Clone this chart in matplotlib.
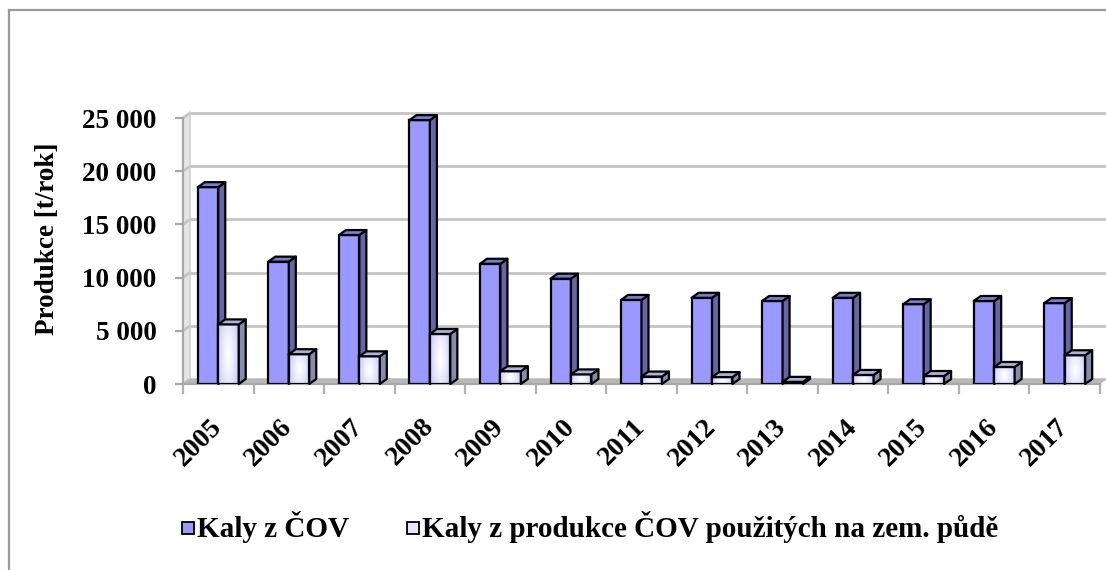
import numpy as np
import matplotlib
matplotlib.use("Agg")
import matplotlib.pyplot as plt
from matplotlib.patches import Polygon
from matplotlib.lines import Line2D

# ---- data ----
years = ["2005", "2006", "2007", "2008", "2009", "2010", "2011",
         "2012", "2013", "2014", "2015", "2016", "2017"]
kaly_cov = [18500, 11500, 14000, 24800, 11300, 9900, 7900,
            8100, 7800, 8100, 7500, 7800, 7600]
kaly_puda = [5600, 2800, 2600, 4700, 1200, 900, 700,
             650, 200, 850, 750, 1600, 2700]
y_ticks = [0, 5000, 10000, 15000, 20000, 25000]
y_tick_labels = ["0", "5 000", "10 000", "15 000", "20 000", "25 000"]
y_label = "Produkce [t/rok]"
legend_labels = ["Kaly z ČOV", "Kaly z produkce ČOV použitých na zem. půdě"]

plt.rcParams['font.family'] = ['Liberation Serif', 'DejaVu Serif']
plt.rcParams['font.weight'] = 'bold'

W, H = 1106, 570
fig = plt.figure(figsize=(W / 100, H / 100), dpi=100)
fig.patch.set_facecolor('white')

# frame (top & left visible)
fig.add_artist(Line2D([9 / W, 9 / W], [0, 1 - 10 / H], color='#9a9a9a', lw=1.6,
                      transform=fig.transFigure))
fig.add_artist(Line2D([9 / W, 1], [1 - 10 / H, 1 - 10 / H], color='#9a9a9a', lw=1.6,
                      transform=fig.transFigure))

ax_l, ax_r, ax_b, ax_t = 183, 1100, 384, 118
ax = fig.add_axes([ax_l / W, (H - ax_b) / H, (ax_r - ax_l) / W, (ax_b - ax_t) / H])
ax.set_facecolor('none')
n = len(years)
ax.set_xlim(-0.5, n - 0.5)
ax.set_ylim(0, 25000)

px_x = (n) / (ax_r - ax_l)          # data units per pixel (x)
px_y = 25000 / (ax_b - ax_t)        # data units per pixel (y)
dx = 7 * px_x
dy = 5 * px_y

grid_c = '#c4c4c4'
# back wall grid lines
for v in y_ticks:
    ax.plot([-0.5 + dx, n - 0.5 + dx], [v + dy, v + dy], color=grid_c, lw=2,
            clip_on=False, zorder=1, solid_capstyle='butt')
    ax.plot([-0.5, -0.5 + dx], [v, v + dy], color=grid_c, lw=2,
            clip_on=False, zorder=1)
# left wall
ax.add_patch(Polygon([(-0.5, 0), (-0.5 + dx, dy), (-0.5 + dx, 25000 + dy), (-0.5, 25000)],
                     closed=True, facecolor='#e6e6e6', edgecolor='none',
                     clip_on=False, zorder=0.5))
ax.plot([-0.5 + dx, -0.5 + dx], [dy, 25000 + dy], color='#d0d0d0', lw=1.2,
        clip_on=False, zorder=1)
# floor
ax.add_patch(Polygon([(-0.5, 0), (n - 0.5, 0), (n - 0.5 + dx, dy), (-0.5 + dx, dy)],
                     closed=True, facecolor='#b8b8b8', edgecolor='none',
                     clip_on=False, zorder=1.5))

bw = 0.29
x = np.arange(n)
edge_lw = 1.6

# gradient image for white bars
gx = np.linspace(-1, 1, 60)
gy = np.linspace(-1, 1, 120)
GX, GY = np.meshgrid(gx, gy)
r = np.clip(np.sqrt(GX ** 2 * 1.0 + GY ** 2 * 0.35), 0, 1)
c_edge = np.array([0.80, 0.80, 1.0])
c_mid = np.array([1.0, 1.0, 1.0])
grad = c_mid[None, None, :] * (1 - r[..., None] ** 1.3) + c_edge[None, None, :] * (r[..., None] ** 1.3)


def draw_bar(x0, h, front, side, top, gradient=False, z=3):
    x1 = x0 + bw
    bars = ax.bar([x0], [h], width=bw, align='edge', color=front, edgecolor='black',
                  linewidth=edge_lw, zorder=z)
    if gradient:
        im = ax.imshow(grad, extent=[x0, x1, 0, h], aspect='auto', zorder=z + 0.05,
                       interpolation='bilinear')
        im.set_clip_path(bars[0])
        ax.bar([x0], [h], width=bw, align='edge', color='none', edgecolor='black',
               linewidth=edge_lw, zorder=z + 0.1)
    ax.add_patch(Polygon([(x1, 0), (x1 + dx, dy), (x1 + dx, h + dy), (x1, h)], closed=True,
                         facecolor=side, edgecolor='black', lw=edge_lw, zorder=z + 0.2,
                         joinstyle='round', clip_on=False))
    ax.add_patch(Polygon([(x0, h), (x0 + dx, h + dy), (x1 + dx, h + dy), (x1, h)], closed=True,
                         facecolor=top, edgecolor='black', lw=edge_lw, zorder=z + 0.2,
                         joinstyle='round', clip_on=False))


for i in range(n):
    zb = 3 + i
    draw_bar(x[i] - bw, kaly_cov[i], '#9999ff', '#6565a8', '#7b7bd0', z=zb)
    draw_bar(x[i], kaly_puda[i], '#e6e6ff', '#8a8ab0', '#b0b0dc', gradient=True, z=zb + 0.5)

ax.set_xlim(-0.5, n - 0.5)
ax.set_ylim(0, 25000)

# spines & ticks
for s in ['top', 'right']:
    ax.spines[s].set_visible(False)
for s in ['left', 'bottom']:
    ax.spines[s].set_color('#a8a8a8')
    ax.spines[s].set_linewidth(1.6)
    ax.spines[s].set_zorder(2)

ax.set_yticks(y_ticks)
ax.set_yticklabels(y_tick_labels)
ax.tick_params(axis='y', length=6, width=1.6, color='#a8a8a8', pad=13, labelsize=19.5)

ax.set_xticks(np.arange(n + 1) - 0.5)
ax.set_xticklabels([])
ax.tick_params(axis='x', which='major', length=7, width=1.6, color='#b0b0b0')
ax.set_xticks(x, minor=True)
ax.set_xticklabels(years, minor=True)
ax.tick_params(axis='x', which='minor', length=0, pad=28, labelsize=20)
for lab in ax.get_xticklabels(minor=True):
    lab.set_rotation(45)
    lab.set_ha('right')
    lab.set_va('center')
    lab.set_rotation_mode('anchor')

ax.set_ylabel(y_label, fontsize=19.5, fontweight='bold')
ax.yaxis.set_label_coords((60 - ax_l) / (ax_r - ax_l), (ax_b - 239) / (ax_b - ax_t))

handles = [Line2D([], [], ls='none', marker='s', markersize=8.5, markerfacecolor='#9999ff',
                  markeredgecolor='black', markeredgewidth=1.3),
           Line2D([], [], ls='none', marker='s', markersize=8.5, markerfacecolor='#e6e6ff',
                  markeredgecolor='black', markeredgewidth=1.3)]
fig.legend(handles, legend_labels, loc='center', bbox_to_anchor=(590 / W, 1 - 527 / H),
           ncol=2, frameon=False, handlelength=0.45, handleheight=0.5,
           handletextpad=0.1, columnspacing=1.95, prop={'weight': 'bold', 'size': 21})

fig.savefig('out.png', dpi=100)
